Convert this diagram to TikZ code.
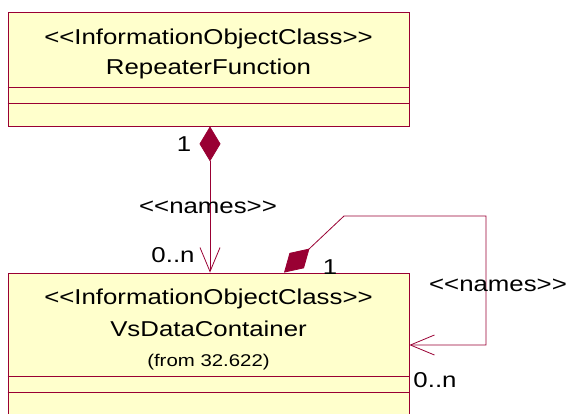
\documentclass[tikz,border=0pt]{standalone}
\usepackage{fontspec}
\setmainfont{Liberation Sans}[FakeStretch=1.2]
\usetikzlibrary{arrows.meta}
\definecolor{umlred}{HTML}{990033}
\definecolor{umlfill}{HTML}{FFFFCC}
\newcommand\dlt{\textless\kern0pt\textless}
\newcommand\dgt{\textgreater\kern0pt\textgreater}

\begin{document}
\begin{tikzpicture}[x=1pt, y=-1pt,
            classbox/.style={rectangle, draw=umlred, fill=umlfill, line width=0.8pt, minimum width=401pt, inner sep=0pt},
            txt/.style={anchor=base, inner sep=0pt, font=\fontsize{21.5}{24}\selectfont},
            small/.style={anchor=base, inner sep=0pt, font=\fontsize{17}{20}\selectfont},
            sep/.style={draw=umlred, line width=0.8pt},
            assoc/.style={color=umlred, line width=0.8pt, {Diamond[length=35pt,width=21pt]}-{Straight Barb[length=24pt,width=20pt]}}
        ]
            \useasboundingbox (0,0) rectangle (569,414);
            \clip (0,0) rectangle (569,414);

            \node[classbox, minimum height=114pt] (rf) at (208.5,69) {};
            \node[classbox, minimum height=167pt] (vs) at (208.5,356.5) {};
            \draw[sep] (rf.west |- 0,87) -- (rf.east |- 0,87);
            \draw[sep] (rf.west |- 0,103) -- (rf.east |- 0,103);
            \draw[sep] (vs.west |- 0,376) -- (vs.east |- 0,376);
            \draw[sep] (vs.west |- 0,392) -- (vs.east |- 0,392);

            \node[txt] (rf-stereo) at (208.5,45) {\dlt InformationObjectClass\dgt};
            \node[txt] (rf-name) at (208.5,75) {RepeaterFunction};
            \node[txt] (vs-stereo) at (208.5,304) {\dlt InformationObjectClass\dgt};
            \node[txt] (vs-name) at (208.5,336) {VsDataContainer};
            \node[small] (vs-from) at (208.5,366) {(from 32.622)};

            % names: RepeaterFunction -> VsDataContainer
            \draw[assoc] ([xshift=1.5pt]rf.south) -- ([xshift=1.5pt]vs.north);
            \node[txt] (one-a) at (184,152) {1};
            \node[txt] (names-a) at (208,213) {\dlt names\dgt};
            \node[txt] (many-a) at (173,262) {0..n};

            % names: self association
            \coordinate (bend1) at (344,216);
            \coordinate (bend2) at (486,216);
            \coordinate (bend3) at (486,345);
            \draw[assoc] ([xshift=75.5pt]vs.north) -- (bend1) -- (bend2) -- (bend3) -- ([yshift=11.5pt]vs.east);
            \node[txt] (one-b) at (330,274) {1};
            \node[txt] (names-b) at (498,291) {\dlt names\dgt};
            \node[txt] (many-b) at (435,387) {0..n};
        \end{tikzpicture}
\end{document}
